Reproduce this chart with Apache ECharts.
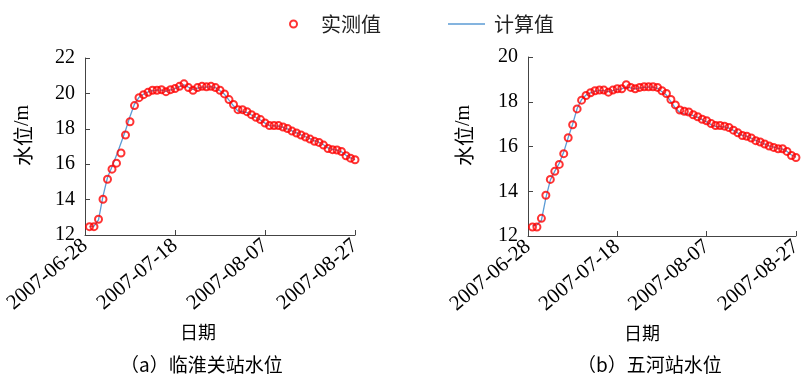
<!DOCTYPE html>
<html>
<head>
<meta charset="utf-8">
<script src="https://cdn.jsdelivr.net/npm/echarts@6/dist/echarts.min.js"></script>
<style>
  html, body { margin: 0; padding: 0; background: #fff; }
  #chart { width: 805px; height: 375px; }
</style>
</head>
<body>
<div id="chart"></div>
<script>
// Daily water levels, 2007-06-29 .. 2007-08-27 (the axis starts on 2007-06-28)
const startDate = '2007-06-28';
const dayCount = 61;

// (a) 临淮关站
const linhuaiguanObserved = [
  12.47, 12.47, 12.89, 14.02, 15.15, 15.72, 16.06, 16.63, 17.65, 18.40,
  19.31, 19.76, 19.93, 20.06, 20.18, 20.18, 20.21, 20.10, 20.21, 20.27,
  20.40, 20.54, 20.33, 20.18, 20.33, 20.40, 20.37, 20.40, 20.33, 20.18,
  19.97, 19.65, 19.37, 19.08, 19.08, 18.97, 18.80, 18.65, 18.52, 18.33,
  18.18, 18.18, 18.18, 18.10, 18.02, 17.87, 17.76, 17.65, 17.53, 17.42,
  17.29, 17.23, 17.08, 16.89, 16.82, 16.80, 16.72, 16.48, 16.34, 16.25
];
const linhuaiguanComputed = [
  12.47, 12.50, 12.85, 14.20, 15.25, 15.85, 16.50, 17.20, 17.90, 18.70,
  19.40, 19.78, 19.95, 20.08, 20.15, 20.18, 20.18, 20.12, 20.20, 20.27,
  20.38, 20.48, 20.35, 20.22, 20.30, 20.36, 20.36, 20.38, 20.32, 20.15,
  19.95, 19.62, 19.30, 19.00, 18.98, 18.92, 18.78, 18.64, 18.50, 18.32,
  18.18, 18.17, 18.15, 18.08, 18.00, 17.88, 17.77, 17.66, 17.55, 17.44,
  17.32, 17.24, 17.10, 16.92, 16.84, 16.80, 16.70, 16.50, 16.36, 16.25
];

// (b) 五河站
const wuheObserved = [
  12.40, 12.40, 12.79, 13.82, 14.53, 14.89, 15.20, 15.68, 16.39, 16.97,
  17.68, 18.07, 18.28, 18.40, 18.49, 18.52, 18.52, 18.43, 18.52, 18.58,
  18.58, 18.76, 18.64, 18.58, 18.64, 18.67, 18.67, 18.67, 18.64, 18.49,
  18.37, 18.10, 17.86, 17.63, 17.57, 17.54, 17.42, 17.33, 17.22, 17.15,
  17.03, 16.94, 16.94, 16.91, 16.85, 16.73, 16.61, 16.49, 16.46, 16.38,
  16.26, 16.20, 16.11, 16.02, 15.96, 15.90, 15.90, 15.78, 15.60, 15.51
];
const wuheComputed = [
  12.45, 12.50, 12.70, 13.70, 14.50, 14.90, 15.25, 15.75, 16.40, 17.00,
  17.70, 18.10, 18.30, 18.40, 18.47, 18.50, 18.50, 18.45, 18.50, 18.55,
  18.58, 18.66, 18.62, 18.58, 18.62, 18.64, 18.65, 18.65, 18.60, 18.45,
  18.30, 18.00, 17.72, 17.52, 17.46, 17.45, 17.38, 17.30, 17.20, 17.10,
  16.98, 16.90, 16.89, 16.88, 16.82, 16.72, 16.60, 16.50, 16.45, 16.37,
  16.27, 16.20, 16.11, 16.03, 15.97, 15.92, 15.88, 15.78, 15.62, 15.52
];

const seriesNames = ['实测值', '计算值'];
const axisNames = { x: '日期', yMain: '水位', yUnit: '/m' };
const captions = ['（a）临淮关站水位', '（b）五河站水位'];
const yRanges = [[12, 22], [12, 20]];

// one category per day
const dates = [];
(function () {
  const t0 = Date.UTC(2007, 5, 28);
  for (let i = 0; i < dayCount; i++) {
    const d = new Date(t0 + i * 86400000);
    const mm = String(d.getUTCMonth() + 1).padStart(2, '0');
    const dd = String(d.getUTCDate()).padStart(2, '0');
    dates.push(d.getUTCFullYear() + '-' + mm + '-' + dd);
  }
})();

// first category (start date) has no reading
const pad = arr => [null].concat(arr);

const SERIF = 'Liberation Serif';
const CJK = 'Noto Sans CJK SC';
const RED = '#ff0000';
const BLUE = '#5b9bd5';
const AXIS = '#444';

function makeX(gridIndex, nameShift) {
  return {
    type: 'category',
    gridIndex: gridIndex,
    data: dates,
    boundaryGap: false,
    axisLine: { lineStyle: { color: AXIS, width: 1 } },
    axisTick: { inside: true, length: 5, interval: 19, lineStyle: { color: AXIS } },
    axisLabel: {
      interval: 19, rotate: 40, margin: 8,
      fontFamily: SERIF, fontSize: 21, color: '#000'
    },
    splitLine: { show: false },
    name: axisNames.x,
    nameLocation: 'middle',
    nameGap: 88,
    nameTextStyle: {
      fontFamily: CJK, fontSize: 18, color: '#000',
      padding: [0, nameShift, 0, 0]
    }
  };
}

function makeY(gridIndex, range, nameGap) {
  return {
    type: 'value',
    gridIndex: gridIndex,
    min: range[0], max: range[1], interval: 2,
    axisLine: { show: true, lineStyle: { color: AXIS, width: 1 } },
    axisTick: { show: true, inside: true, length: 5, lineStyle: { color: AXIS } },
    axisLabel: { margin: 10, fontFamily: SERIF, fontSize: 20, color: '#000' },
    splitLine: { show: false },
    name: '{c|' + axisNames.yMain + '}{s|' + axisNames.yUnit + '}',
    nameLocation: 'middle',
    nameGap: nameGap,
    nameRotate: 90,
    nameTextStyle: {
      color: '#000',
      padding: [0, 0, 0, 22],
      rich: {
        c: { fontFamily: CJK, fontSize: 20, color: '#000' },
        s: { fontFamily: SERIF, fontSize: 20, color: '#000' }
      }
    }
  };
}

function observedSeries(idx, values) {
  return {
    name: seriesNames[0], type: 'scatter',
    xAxisIndex: idx, yAxisIndex: idx,
    data: pad(values),
    symbol: 'circle', symbolSize: 7,
    itemStyle: { color: 'rgba(255,255,255,0)', borderColor: RED, borderWidth: 2 },
    z: 3
  };
}

function computedSeries(idx, values) {
  return {
    name: seriesNames[1], type: 'line',
    xAxisIndex: idx, yAxisIndex: idx,
    data: pad(values),
    symbol: 'none', smooth: false,
    lineStyle: { color: BLUE, width: 1.3 },
    itemStyle: { color: BLUE },
    z: 2
  };
}

const legendText = { fontFamily: CJK, fontSize: 20, color: '#222', padding: [0, 0, 0, 4] };

const chart = echarts.init(document.getElementById('chart'), null, { renderer: 'canvas' });
chart.setOption({
  animation: false,
  backgroundColor: '#fff',
  legend: [
    {
      data: [seriesNames[0]],
      left: 284, top: 9,
      itemWidth: 37, itemHeight: 7,
      textStyle: legendText
    },
    {
      data: [{ name: seriesNames[1], icon: 'path://M0,0 L100,0 L100,4 L0,4 Z' }],
      left: 443, top: 9,
      itemWidth: 37, itemHeight: 1.6,
      textStyle: legendText
    }
  ],
  grid: [
    { left: 85, right: 450, top: 58, bottom: 140 },
    { left: 528, right: 8, top: 57, bottom: 139 }
  ],
  xAxis: [makeX(0, 44), makeX(1, 40)],
  yAxis: [makeY(0, yRanges[0], 52), makeY(1, yRanges[1], 54)],
  series: [
    computedSeries(0, linhuaiguanComputed),
    observedSeries(0, linhuaiguanObserved),
    computedSeries(1, wuheComputed),
    observedSeries(1, wuheObserved)
  ],
  graphic: [
    {
      type: 'text', left: 120, top: 355,
      style: { text: captions[0], font: '19px "' + CJK + '"', fill: '#000' }
    },
    {
      type: 'text', left: 577, top: 355,
      style: { text: captions[1], font: '19px "' + CJK + '"', fill: '#000' }
    }
  ]
});
</script>
</body>
</html>
